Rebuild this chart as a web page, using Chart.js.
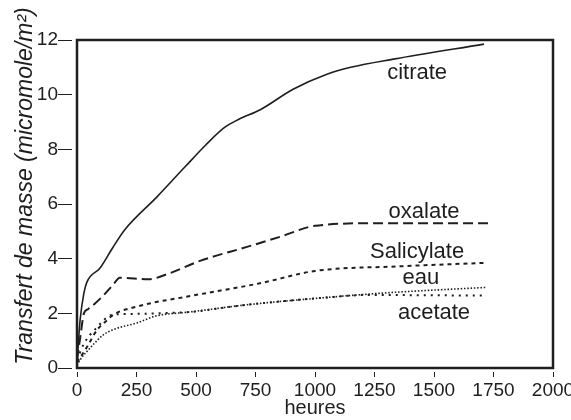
<!DOCTYPE html>
<html>
<head>
<meta charset="utf-8">
<script src="https://cdn.jsdelivr.net/npm/chart.js@4.4.0/dist/chart.umd.min.js"></script>
<style>
  html, body { margin: 0; padding: 0; background: #fff; }
</style>
</head>
<body>
<canvas id="transfert" width="571" height="420"></canvas>
<script>
// heures / transfert de masse (micromole/m2) for each solution
const citrateH = [0, 13, 29, 42, 97, 150, 200, 336, 454, 540, 620, 680, 770, 908, 1050, 1150, 1330, 1710]
const citrateV = [0.2, 1.75, 2.74, 3.15, 3.66, 4.4, 5.05, 6.26, 7.36, 8.15, 8.8, 9.1, 9.45, 10.2, 10.75, 11.0, 11.3, 11.85]

const oxalateH = [0, 15, 29, 46, 105, 151, 180, 300, 390, 517, 714, 853, 1000, 1273, 1727]
const oxalateV = [0.3, 1.2, 2.0, 2.15, 2.6, 3.04, 3.3, 3.25, 3.47, 3.92, 4.43, 4.8, 5.2, 5.3, 5.3]

const salicylateH = [0, 42, 84, 118, 151, 252, 487, 769, 1000, 1357, 1723]
const salicylateV = [0.2, 0.77, 1.39, 1.68, 1.94, 2.25, 2.65, 3.1, 3.55, 3.72, 3.85]

const eauH = [0, 13, 55, 109, 151, 252, 330, 475, 700, 1021, 1300, 1723]
const eauV = [0.1, 0.3, 0.73, 1.2, 1.4, 1.65, 1.9, 2.05, 2.3, 2.56, 2.75, 2.95]

const acetateH = [0, 30, 80, 150, 250, 330, 475, 700, 1021, 1220, 1710]
const acetateV = [0.3, 0.9, 1.45, 1.95, 1.98, 2.0, 2.05, 2.3, 2.56, 2.67, 2.65]

const xTicks = [0, 250, 500, 750, 1000, 1250, 1500, 1750, 2000]
const yTicks = [0, 2, 4, 6, 8, 10, 12]

// curve names, written next to each curve (hours, value)
const labelNames = ['citrate', 'oxalate', 'Salicylate', 'eau', 'acetate']
const labelHours = [1429, 1458, 1429, 1445, 1500]
const labelValues = [10.8, 5.7, 4.25, 3.3, 2.0]

const yTitle = 'Transfert de masse (micromole/m²)'
const xTitle = 'heures'

const FONT = '"Liberation Sans", Arial, sans-serif'
const INK = '#1e1e1e'

function points(hours, values){
  return hours.map((h, i) => ({x: h, y: values[i]}))
}

function serie(label, hours, values, dash, width){
  return {
    label: label,
    data: points(hours, values),
    borderColor: INK,
    borderWidth: width,
    borderDash: dash,
    pointRadius: 0,
    fill: false,
    cubicInterpolationMode: 'monotone',
  }
}

const frameAndLabels = {
  id: 'frameAndLabels',
  afterDatasetsDraw(chart){
    const {ctx, chartArea, scales: {x, y}} = chart
    ctx.save()

    ctx.lineWidth = 2.5
    ctx.strokeStyle = INK
    ctx.setLineDash([])
    ctx.strokeRect(chartArea.left, chartArea.top, chartArea.right - chartArea.left, chartArea.bottom - chartArea.top)

    ctx.fillStyle = INK
    ctx.font = '22px ' + FONT
    ctx.textAlign = 'center'
    ctx.textBaseline = 'middle'
    labelNames.forEach((name, i) => {
      ctx.fillText(name, x.getPixelForValue(labelHours[i]), y.getPixelForValue(labelValues[i]))
    })

    // rotated axis title, sitting a little above the middle of the axis
    ctx.translate(chartArea.left - 51, (chartArea.top + chartArea.bottom) / 2 - 18)
    ctx.rotate(-Math.PI / 2)
    ctx.font = 'italic 23px ' + FONT
    ctx.fillText(yTitle, 0, 0)

    ctx.restore()
  }
}

new Chart(document.querySelector('#transfert'), {
  type: 'line',
  plugins: [frameAndLabels],
  data: {
    datasets: [
      serie('citrate', citrateH, citrateV, [], 1.6),
      serie('oxalate', oxalateH, oxalateV, [10, 5], 2),
      serie('Salicylate', salicylateH, salicylateV, [4, 4], 2),
      serie('eau', eauH, eauV, [1.5, 1.8], 1.6),
      serie('acetate', acetateH, acetateV, [2, 5], 2),
    ]
  },
  options: {
    responsive: false,
    animation: false,
    layout: {
      padding: {top: 40, right: 18, left: 0, bottom: 0}
    },
    plugins: {
      legend: { display: false },
      tooltip: { enabled: false },
    },
    scales: {
      x: {
        type: 'linear',
        min: 0,
        max: 2000,
        afterBuildTicks: (scale) => { scale.ticks = xTicks.map(v => ({value: v})) },
        afterFit: (scale) => {
          scale.height = 52
          scale.paddingLeft = 0
          scale.paddingRight = 0
        },
        border: { display: false },
        grid: {
          drawOnChartArea: false,
          drawTicks: true,
          tickLength: 9,
          tickColor: INK,
          tickWidth: 1,
          tickBorderDash: [0, 4, 5, 100],
        },
        ticks: {
          padding: 2,
          color: INK,
          maxRotation: 0,
          autoSkip: false,
          font: { family: FONT, size: 19 },
          callback: (v) => String(v),
        },
        title: {
          display: true,
          text: xTitle,
          color: INK,
          padding: {top: 0, bottom: 0},
          font: { family: FONT, size: 20 },
        }
      },
      y: {
        type: 'linear',
        min: 0,
        max: 12,
        afterBuildTicks: (scale) => { scale.ticks = yTicks.map(v => ({value: v})) },
        afterFit: (scale) => {
          scale.width = 77
          scale.paddingTop = 0
          scale.paddingBottom = 0
        },
        border: { display: false },
        grid: {
          drawOnChartArea: false,
          drawTicks: true,
          tickLength: 19,
          tickColor: INK,
          tickWidth: 1,
          tickBorderDash: [14, 100],
        },
        ticks: {
          padding: 0,
          color: INK,
          font: { family: FONT, size: 19 },
          callback: (v) => String(v),
        },
      }
    }
  }
})
</script>
</body>
</html>
